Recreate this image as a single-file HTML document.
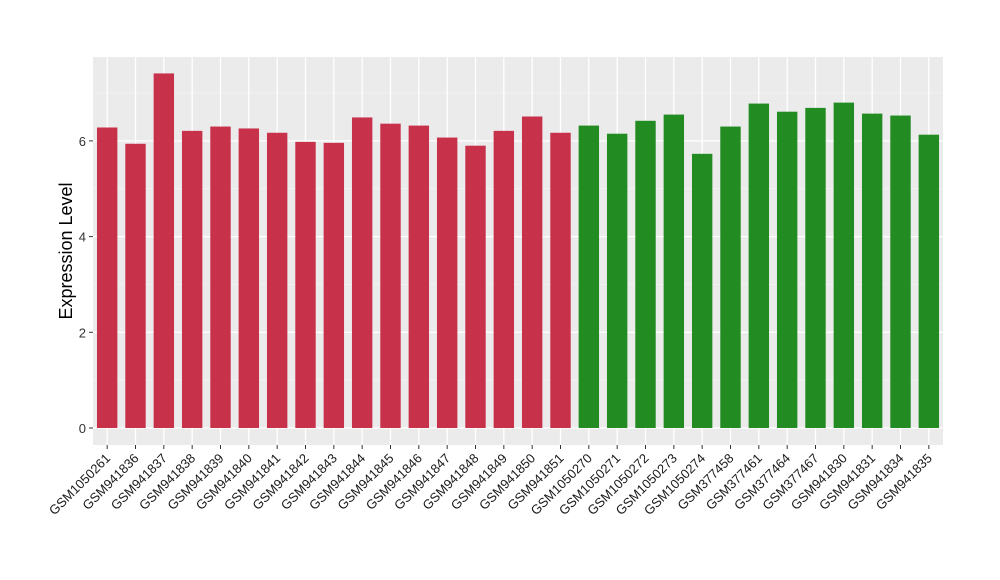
<!DOCTYPE html>
<html><head><meta charset="utf-8"><style>
html,body{margin:0;padding:0;background:#fff;}
svg{display:block;font-family:"Liberation Sans",Arial,sans-serif;}
</style></head><body>
<svg id="chart" width="1000" height="580"></svg>
<script>
const categories=["GSM1050261","GSM941836","GSM941837","GSM941838","GSM941839","GSM941840","GSM941841","GSM941842","GSM941843","GSM941844","GSM941845","GSM941846","GSM941847","GSM941848","GSM941849","GSM941850","GSM941851","GSM1050270","GSM1050271","GSM1050272","GSM1050273","GSM1050274","GSM377458","GSM377461","GSM377464","GSM377467","GSM941830","GSM941831","GSM941834","GSM941835"];
const values=[6.28,5.94,7.41,6.21,6.30,6.26,6.17,5.98,5.96,6.49,6.36,6.32,6.07,5.90,6.21,6.51,6.17,6.32,6.15,6.42,6.55,5.73,6.30,6.78,6.61,6.69,6.80,6.57,6.53,6.13];
const groups=["a","a","a","a","a","a","a","a","a","a","a","a","a","a","a","a","a","b","b","b","b","b","b","b","b","b","b","b","b","b"];
const yTicks=[0,2,4,6];
const yMinor=[1,3,5,7];
const NS="http://www.w3.org/2000/svg";
const svg=document.getElementById('chart');
const PL=93,PR=943,PT=57,PB=445;
const y=v=>428-v*47.85;
const step=(PR-PL)/categories.length;
const x=i=>PL+step*(i+0.5);
const bw=step*0.72;
function mk(t,a,parent){const e=document.createElementNS(NS,t);for(const k in a)e.setAttribute(k,a[k]);(parent||svg).appendChild(e);return e;}
const panel=mk('rect',{x:PL,y:PT,width:PR-PL,height:PB-PT,fill:'#EBEBEB'});


yMinor.forEach(v=>{const l=mk('line',{x1:PL,x2:PR,y1:y(v),y2:y(v),stroke:'#F5F5F5','stroke-width':0.7});

});
yTicks.forEach(v=>{const l=mk('line',{x1:PL,x2:PR,y1:y(v),y2:y(v),stroke:'#fff','stroke-width':1.3});


const tk=mk('line',{x1:PL-4,x2:PL,y1:y(v),y2:y(v),stroke:'#333','stroke-width':1});


const t=mk('text',{x:PL-7,y:y(v)+5,'text-anchor':'end','font-size':13,fill:'#333'});t.textContent=v;

});
categories.forEach((c,i)=>{const l=mk('line',{x1:x(i),x2:x(i),y1:PT,y2:PB,stroke:'#fff','stroke-width':1.3});

});
categories.forEach((c,i)=>{
const r=mk('rect',{x:x(i)-bw/2,y:y(values[i]),width:bw,height:y(0)-y(values[i]),fill:groups[i]==='a'?'#C7314A':'#228B22'});


const tk=mk('line',{x1:x(i),x2:x(i),y1:PB,y2:PB+4,stroke:'#333','stroke-width':1});


const t=mk('text',{x:x(i)+4,y:PB+14,'text-anchor':'end','font-size':13,fill:'#1a1a1a',transform:`rotate(-45 ${x(i)+4} ${PB+14})`});t.textContent=c;

});
const yt=mk('text',{x:72,y:(PT+PB)/2,'text-anchor':'middle','font-size':18,fill:'#000',transform:`rotate(-90 72 ${(PT+PB)/2})`});yt.textContent='Expression Level';


</script>
</body></html>
